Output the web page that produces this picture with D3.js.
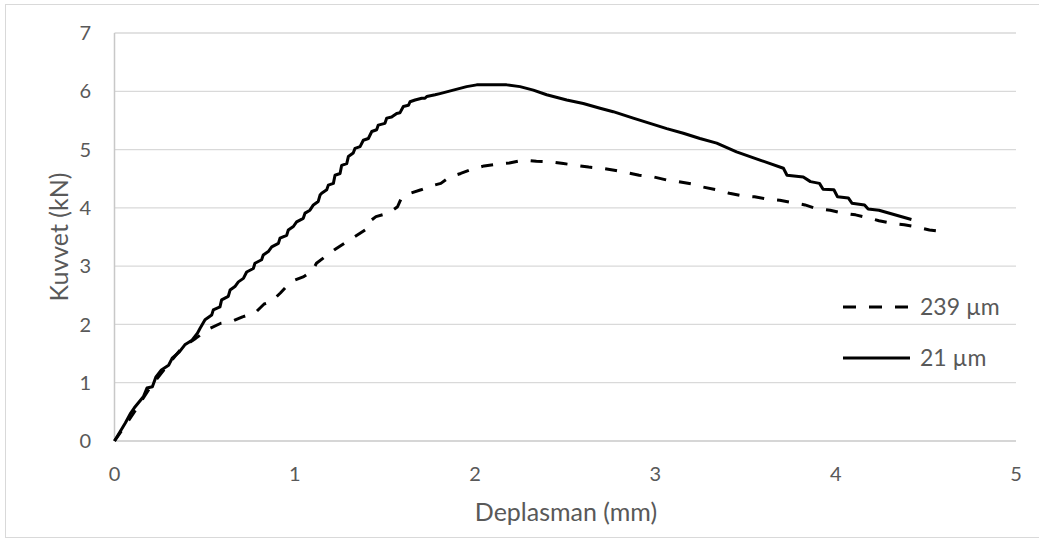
<!DOCTYPE html>
<html>
<head>
<meta charset="utf-8">
<script src="https://cdn.jsdelivr.net/npm/d3@7"></script>
<style>
  body { margin: 0; background: #fff; }
  text { font-family: Lato, "Open Sans", sans-serif; fill: #595959; }
</style>
</head>
<body>
<svg id="chart" width="1039" height="540"></svg>
<script>
// 21 µm series (solid)
const disp21 = [0, 0.06, 0.09, 0.11, 0.16, 0.18, 0.21, 0.23, 0.26, 0.30, 0.32, 0.36, 0.39, 0.43, 0.46, 0.474,
  0.502, 0.539, 0.548, 0.585, 0.594, 0.631, 0.641, 0.668, 0.687, 0.715, 0.733, 0.770, 0.779, 0.816, 0.825,
  0.853, 0.872, 0.909, 0.918, 0.955, 0.964, 0.992, 1.010, 1.047, 1.057, 1.084, 1.103, 1.130, 1.140, 1.149,
  1.177, 1.186, 1.214, 1.223, 1.251, 1.260, 1.288, 1.297, 1.324, 1.334, 1.362, 1.380, 1.408, 1.427, 1.454,
  1.463, 1.500, 1.510, 1.537, 1.565, 1.583, 1.602, 1.630, 1.639, 1.667, 1.704, 1.722, 1.732, 1.778, 1.805,
  1.879, 1.953, 2.009, 2.175, 2.249, 2.323, 2.397, 2.508, 2.600, 2.693, 2.766, 2.877, 2.970, 3.063, 3.155,
  3.247, 3.34, 3.45, 3.58, 3.71, 3.73, 3.82, 3.86, 3.91, 3.93, 3.99, 4.01, 4.07, 4.09, 4.16, 4.18, 4.24, 4.42];
const force21 = [0, 0.31, 0.48, 0.57, 0.76, 0.91, 0.93, 1.10, 1.22, 1.30, 1.42, 1.53, 1.65, 1.73, 1.85, 1.93,
  2.08, 2.16, 2.25, 2.30, 2.42, 2.48, 2.59, 2.65, 2.73, 2.79, 2.90, 2.96, 3.05, 3.11, 3.19,
  3.25, 3.33, 3.39, 3.48, 3.53, 3.62, 3.68, 3.76, 3.82, 3.91, 3.96, 4.05, 4.11, 4.22, 4.25,
  4.31, 4.39, 4.42, 4.56, 4.59, 4.73, 4.76, 4.88, 4.94, 5.02, 5.05, 5.16, 5.19, 5.31, 5.34,
  5.42, 5.45, 5.54, 5.56, 5.62, 5.63, 5.74, 5.76, 5.82, 5.85, 5.88, 5.88, 5.91, 5.94, 5.96,
  6.02, 6.08, 6.11, 6.11, 6.08, 6.02, 5.94, 5.85, 5.79, 5.71, 5.65, 5.54, 5.45, 5.36, 5.28,
  5.19, 5.11, 4.96, 4.82, 4.68, 4.56, 4.53, 4.45, 4.42, 4.32, 4.31, 4.19, 4.17, 4.08, 4.05, 3.98, 3.96, 3.80];

// 239 µm series (dashed)
const disp239 = [0, 0.1, 0.2, 0.3, 0.38, 0.45, 0.52, 0.59, 0.65, 0.71, 0.78, 0.83, 0.87, 0.92, 0.95, 1.0,
  1.05, 1.10, 1.12, 1.18, 1.22, 1.28, 1.32, 1.39, 1.40, 1.45, 1.52, 1.57, 1.59, 1.64, 1.70, 1.75, 1.81,
  1.86, 1.92, 1.98, 2.05, 2.12, 2.19, 2.27, 2.34, 2.42, 2.49, 2.56, 2.63, 2.70, 2.78, 2.85, 2.91, 2.99,
  3.06, 3.13, 3.20, 3.26, 3.34, 3.41, 3.49, 3.55, 3.62, 3.69, 3.76, 3.83, 3.89, 3.97, 4.04, 4.11, 4.18,
  4.24, 4.32, 4.38, 4.45, 4.52, 4.60];
const force239 = [0, 0.45, 0.93, 1.32, 1.62, 1.76, 1.92, 2.02, 2.05, 2.13, 2.20, 2.35, 2.39, 2.54, 2.64, 2.76,
  2.82, 2.93, 3.05, 3.19, 3.28, 3.40, 3.48, 3.62, 3.73, 3.85, 3.91, 4.02, 4.16, 4.25, 4.31, 4.37, 4.42,
  4.53, 4.59, 4.66, 4.72, 4.75, 4.77, 4.82, 4.80, 4.79, 4.76, 4.73, 4.70, 4.68, 4.64, 4.60, 4.56, 4.53,
  4.48, 4.45, 4.41, 4.36, 4.31, 4.25, 4.20, 4.19, 4.15, 4.13, 4.09, 4.05, 3.99, 3.96, 3.91, 3.88, 3.83,
  3.78, 3.73, 3.71, 3.67, 3.62, 3.59];

const xTicks = [0, 1, 2, 3, 4, 5];
const yTicks = [0, 1, 2, 3, 4, 5, 6, 7];
const seriesNames = ["239 µm", "21 µm"];

const svg = d3.select("#chart");
const W = 1039, H = 540;
const plotL = 114.5, plotR = 1016, plotT = 33, plotB = 441;

// chart frame
svg.append("rect")
  .attr("x", 5.5).attr("y", 4.5)
  .attr("width", W).attr("height", H - 7)
  .attr("fill", "none").attr("stroke", "#d9d9d9");

const x = d3.scaleLinear().domain([0, 5]).range([plotL, plotR]);
const y = d3.scaleLinear().domain([0, 7]).range([plotB, plotT]);

// gridlines
svg.append("g")
  .selectAll("line")
  .data(yTicks.filter(d => d > 0))
  .join("line")
  .attr("x1", plotL).attr("x2", plotR)
  .attr("y1", d => y(d)).attr("y2", d => y(d))
  .attr("stroke", "#d9d9d9").attr("stroke-width", 1.3);

// axes lines
svg.append("line").attr("x1", plotL).attr("x2", plotL).attr("y1", plotT).attr("y2", plotB)
  .attr("stroke", "#c8c8c8").attr("stroke-width", 1.5);
svg.append("line").attr("x1", plotL).attr("x2", plotR).attr("y1", plotB).attr("y2", plotB)
  .attr("stroke", "#c8c8c8").attr("stroke-width", 1.5);

// tick labels
svg.append("g").selectAll("text")
  .data(yTicks)
  .join("text")
  .attr("x", 91).attr("y", d => y(d))
  .attr("dy", "0.36em")
  .attr("text-anchor", "end")
  .style("font-size", "20px")
  .text(d => d);

svg.append("g").selectAll("text")
  .data(xTicks)
  .join("text")
  .attr("x", d => x(d)).attr("y", 481)
  .attr("text-anchor", "middle")
  .style("font-size", "20px")
  .text(d => d);

// axis titles
svg.append("text")
  .attr("transform", "translate(68,237) rotate(-90)")
  .attr("text-anchor", "middle")
  .style("font-size", "25px")
  .text("Kuvvet (kN)");

svg.append("text")
  .attr("x", 566).attr("y", 521)
  .attr("text-anchor", "middle")
  .style("font-size", "25px")
  .text("Deplasman (mm)");

// series
const line = d3.line().x(d => x(d[0])).y(d => y(d[1]));
const pts239 = disp239.map((d, i) => [d, force239[i]]);
const pts21 = disp21.map((d, i) => [d, force21[i]]);

svg.append("path")
  .datum(pts239)
  .attr("d", line)
  .attr("fill", "none").attr("stroke", "#000")
  .attr("stroke-width", 3)
  .attr("stroke-dasharray", "12,13")
  .attr("stroke-linejoin", "round");

svg.append("path")
  .datum(pts21)
  .attr("d", line)
  .attr("fill", "none").attr("stroke", "#000")
  .attr("stroke-width", 3)
  .attr("stroke-linejoin", "round");

// legend
const legY = [307, 358];
const leg = svg.append("g").selectAll("g")
  .data(seriesNames)
  .join("g");
leg.append("line")
  .attr("x1", 843).attr("x2", 910)
  .attr("y1", (d, i) => legY[i]).attr("y2", (d, i) => legY[i])
  .attr("stroke", "#000").attr("stroke-width", 3)
  .attr("stroke-dasharray", (d, i) => i === 0 ? "13,13" : null);
leg.append("text")
  .attr("x", 920).attr("y", (d, i) => legY[i])
  .attr("dy", "0.36em")
  .style("font-size", "23px")
  .text(d => d);
</script>
</body>
</html>
